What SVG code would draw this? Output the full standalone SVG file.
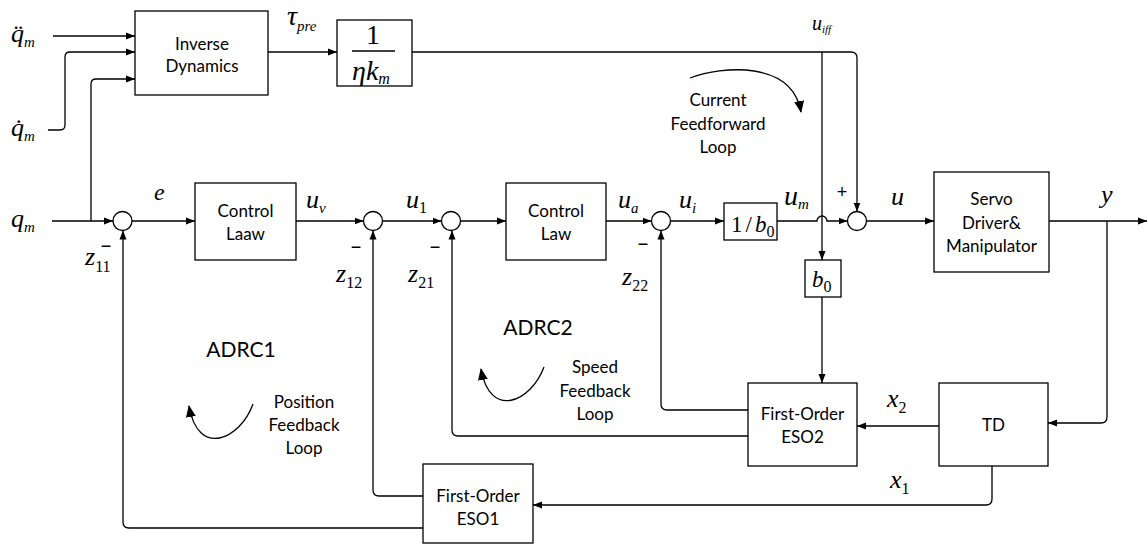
<svg xmlns="http://www.w3.org/2000/svg" width="1147" height="544" viewBox="0 0 1147 544">
<style>
.box{fill:#fff;stroke:#000;stroke-width:1.3}
.sum{fill:#fff;stroke:#000;stroke-width:1.3}
.w{fill:none;stroke:#000;stroke-width:1.3}
.t{font-family:Lato,"Liberation Sans",sans-serif;font-size:17px;fill:#000;text-anchor:middle}
.big{font-family:Lato,"Liberation Sans",sans-serif;font-size:21px;fill:#000;text-anchor:middle}
.m{font-family:"Liberation Serif",serif;font-style:italic;font-size:26px;fill:#000}
.r{font-family:"Liberation Serif",serif;font-size:26px;fill:#000}
.s{font-family:"Liberation Serif",serif;font-style:italic;font-size:15px}
.n{font-family:"Liberation Serif",serif;font-style:normal;font-size:16px}
.sg{font-family:"Liberation Sans",sans-serif;font-size:18px;fill:#000;text-anchor:middle}
</style>
<defs>
<marker id="a" markerUnits="userSpaceOnUse" markerWidth="9" markerHeight="8" refX="9" refY="4" orient="auto"><path d="M0,0.5 L9,4 L0,7.5 z" fill="#000"/></marker>
<marker id="b" markerUnits="userSpaceOnUse" markerWidth="12" markerHeight="10" refX="11" refY="5" orient="auto"><path d="M0,0 L12,5 L0,10 z" fill="#000"/></marker>
</defs>

<g id="connectors">
<path class="w" d="M53,36 H135" marker-end="url(#a)"/>
<path class="w" d="M48,130 H60 Q65,130 65,125 V57 Q65,52 70,52 H135" marker-end="url(#a)"/>
<path class="w" d="M52,221 H113" marker-end="url(#a)"/>
<path class="w" d="M91,221 V84 Q91,79 96,79 H135" marker-end="url(#a)"/>
<path class="w" d="M268,52 H337" marker-end="url(#a)"/>
<path class="w" d="M412,52 H851 Q857,52 857,58 V211.5" marker-end="url(#a)"/>
<path class="w" d="M822,52 V260" marker-end="url(#a)"/>
<path class="w" d="M132,221 H195" marker-end="url(#a)"/>
<path class="w" d="M296,221 H363.5" marker-end="url(#a)"/>
<path class="w" d="M382.5,221 H441.5" marker-end="url(#a)"/>
<path class="w" d="M460.5,221 H506" marker-end="url(#a)"/>
<path class="w" d="M606,221 H651.5" marker-end="url(#a)"/>
<path class="w" d="M670.5,221 H724" marker-end="url(#a)"/>
<path class="w" d="M777,221 H817 A5,5 0 0 1 827,221 H847.5" marker-end="url(#a)"/>
<path class="w" d="M866.5,221 H934" marker-end="url(#a)"/>
<path class="w" d="M1049,221 H1147" marker-end="url(#a)"/>
<path class="w" d="M1107,221 V417 Q1107,423 1101,423 H1048" marker-end="url(#a)"/>
<path class="w" d="M939,426 H857" marker-end="url(#a)"/>
<path class="w" d="M822,297 V383" marker-end="url(#a)"/>
<path class="w" d="M992,466 V499 Q992,505 986,505 H533" marker-end="url(#a)"/>
<path class="w" d="M748,410 H667 Q661,410 661,404 V230.5" marker-end="url(#a)"/>
<path class="w" d="M748,436 H458 Q452,436 452,430 V230.5" marker-end="url(#a)"/>
<path class="w" d="M423,496 H379 Q373,496 373,490 V230.5" marker-end="url(#a)"/>
<path class="w" d="M423,528 H129 Q123,528 123,522 V230.5" marker-end="url(#a)"/>
<path class="w" d="M690,78 C722,66 792,60 801,112" marker-end="url(#b)"/>
<path class="w" d="M253,404 C240,440 198,458 189,406" marker-end="url(#b)"/>
<path class="w" d="M544,367 C531,402 490,420 481,369" marker-end="url(#b)"/>
</g>

<g id="inverse-dynamics">
<rect class="box" x="135" y="11" width="133" height="84"/>
<text class="t" x="202" y="50">Inverse</text>
<text class="t" x="202" y="72">Dynamics</text>
</g>
<g id="gain-eta-km">
<rect class="box" x="337" y="20" width="75" height="66"/>
<text class="r" x="373" y="44" text-anchor="middle" style="font-size:28px">1</text>
<path class="w" d="M352,51 H395"/>
<text class="m" x="352" y="80" style="font-size:28px">ηk<tspan class="s" dy="4" style="font-size:16px">m</tspan></text>
</g>
<g id="sum1"><circle class="sum" cx="122.5" cy="221" r="9.5"/></g>
<g id="control-laaw">
<rect class="box" x="195" y="183" width="101" height="77"/>
<text class="t" x="245.5" y="217">Control</text>
<text class="t" x="245.5" y="240">Laaw</text>
</g>
<g id="sum2"><circle class="sum" cx="373" cy="221" r="9.5"/></g>
<g id="sum3"><circle class="sum" cx="451" cy="221" r="9.5"/></g>
<g id="control-law">
<rect class="box" x="506" y="183" width="100" height="77"/>
<text class="t" x="556" y="217">Control</text>
<text class="t" x="556" y="240">Law</text>
</g>
<g id="sum4"><circle class="sum" cx="661" cy="221" r="9.5"/></g>
<g id="inv-b0">
<rect class="box" x="724" y="203" width="53" height="37"/>
<text class="r" x="731" y="232" style="font-size:23px">1<tspan dx="3">/</tspan><tspan class="m" dx="3" style="font-size:23px">b</tspan><tspan class="n" dy="5">0</tspan></text>
</g>
<g id="b0">
<rect class="box" x="805" y="260" width="36" height="37"/>
<text class="m" x="812" y="287" style="font-size:23px">b<tspan class="n" dy="5">0</tspan></text>
</g>
<g id="sum5"><circle class="sum" cx="857" cy="221" r="9.5"/></g>
<g id="servo">
<rect class="box" x="934" y="172" width="115" height="100"/>
<text class="t" x="991.5" y="205">Servo</text>
<text class="t" x="991.5" y="229">Driver&amp;</text>
<text class="t" x="991.5" y="252">Manipulator</text>
</g>
<g id="eso2">
<rect class="box" x="748" y="383" width="109" height="83"/>
<text class="t" x="802.5" y="420">First-Order</text>
<text class="t" x="802.5" y="443">ESO2</text>
</g>
<g id="td">
<rect class="box" x="939" y="383" width="109" height="83"/>
<text class="t" x="993.5" y="431">TD</text>
</g>
<g id="eso1">
<rect class="box" x="423" y="464" width="110" height="79"/>
<text class="t" x="478" y="502">First-Order</text>
<text class="t" x="478" y="525">ESO1</text>
</g>

<g id="labels">
<text class="m" x="11" y="42">q&#x308;<tspan class="s" dy="5">m</tspan></text>
<text class="m" x="11" y="136">q&#x307;<tspan class="s" dy="5">m</tspan></text>
<text class="m" x="11" y="227">q<tspan class="s" dy="5">m</tspan></text>
<text class="m" x="287" y="25" style="font-size:28px">τ<tspan class="s" dy="6">pre</tspan></text>
<text class="m" x="812" y="30" style="font-size:20px">u<tspan class="s" dy="3" style="font-size:11px">iff</tspan></text>
<text class="m" x="154" y="200" style="font-size:24px">e</text>
<text class="m" x="85" y="265">z<tspan class="n" dy="7">11</tspan></text>
<text class="sg" x="106" y="252">−</text>
<text class="m" x="306" y="208">u<tspan class="s" dy="5">v</tspan></text>
<text class="m" x="406" y="208">u<tspan class="n" dy="5">1</tspan></text>
<text class="m" x="336" y="282">z<tspan class="n" dy="6">12</tspan></text>
<text class="sg" x="356" y="253">−</text>
<text class="m" x="408" y="282">z<tspan class="n" dy="6">21</tspan></text>
<text class="sg" x="435" y="253">−</text>
<text class="m" x="618" y="208">u<tspan class="s" dy="5">a</tspan></text>
<text class="m" x="679" y="208">u<tspan class="s" dy="5">i</tspan></text>
<text class="m" x="622" y="285">z<tspan class="n" dy="6">22</tspan></text>
<text class="sg" x="643" y="250">−</text>
<text class="m" x="784" y="205" style="font-size:28px">u<tspan class="s" dy="4">m</tspan></text>
<text class="sg" x="842" y="198">+</text>
<text class="m" x="891" y="205">u</text>
<text class="m" x="1101" y="203">y</text>
<text class="m" x="887" y="407">x<tspan class="n" dy="6">2</tspan></text>
<text class="m" x="890" y="488">x<tspan class="n" dy="6">1</tspan></text>
<text class="t" x="718" y="106">Current</text>
<text class="t" x="718" y="130">Feedforward</text>
<text class="t" x="718" y="153">Loop</text>
<text class="big" x="241" y="357">ADRC1</text>
<text class="t" x="304" y="408">Position</text>
<text class="t" x="304" y="431">Feedback</text>
<text class="t" x="304" y="454">Loop</text>
<text class="big" x="538" y="335">ADRC2</text>
<text class="t" x="595" y="373">Speed</text>
<text class="t" x="595" y="397">Feedback</text>
<text class="t" x="595" y="420">Loop</text>
</g>
</svg>
